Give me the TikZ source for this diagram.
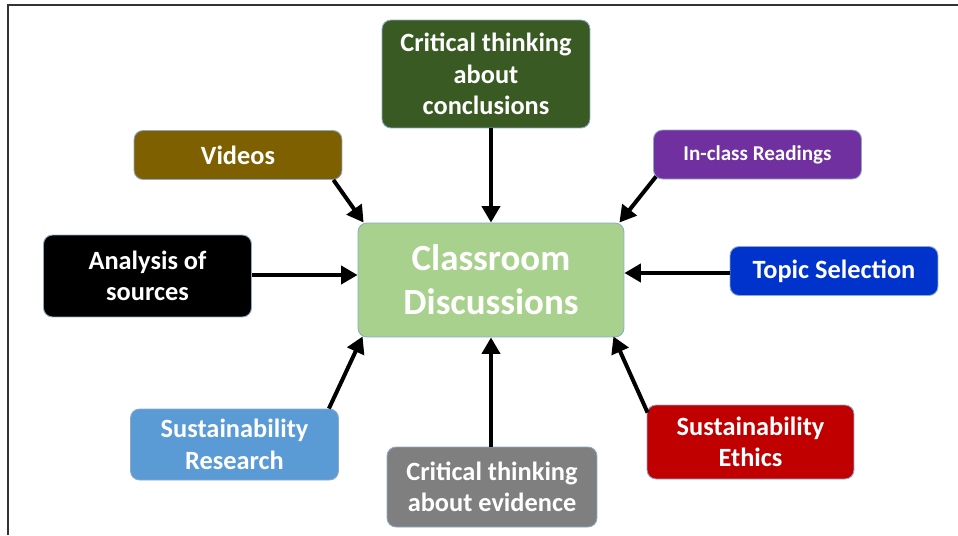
\documentclass[tikz,border=0pt]{standalone}
\usepackage{fontspec}
\setmainfont{Carlito}
\usetikzlibrary{calc}
\usetikzlibrary{arrows.meta}
\definecolor{conclgreen}{HTML}{3A5A24}
\definecolor{videobrown}{HTML}{7F6000}
\definecolor{readpurple}{HTML}{7030A0}
\definecolor{discgreen}{HTML}{A9D18E}
\definecolor{topicblue}{HTML}{0033CC}
\definecolor{researchblue}{HTML}{5B9BD5}
\definecolor{evidgray}{HTML}{7F7F7F}
\definecolor{ethicsred}{HTML}{C00000}
\definecolor{boxedge}{HTML}{8EA9C8}
\definecolor{framegray}{HTML}{333333}
\tikzset{
  topicbox/.style={draw=boxedge, line width=0.5pt, rounded corners=0.18cm,
    minimum width=4.16cm, minimum height=0.98cm, inner sep=0pt, align=center,
    text=white, font=\bfseries\fontsize{15}{18}\selectfont},
  feed/.style={black, line width=0.08cm, -{Triangle[length=0.33cm,width=0.36cm]}}
}

\begin{document}
\begin{tikzpicture}[x=0.02cm,y=-0.02cm]

\useasboundingbox (0,0) rectangle (958,535);
\draw[framegray,line width=0.03cm] (8,535)--(8,5)--(958,5);

\node[topicbox, fill=discgreen, minimum width=5.32cm, minimum height=2.28cm,
  font=\bfseries\fontsize{21}{25}\selectfont] (cd) at (491,280) {Classroom\\Discussions};

\node[topicbox, fill=conclgreen, minimum height=2.16cm] (concl) at (486,74) {Critical thinking\\about\\conclusions};
\node[topicbox, fill=videobrown] (vid) at (238,155) {Videos};
\node[topicbox, fill=readpurple, font=\bfseries\fontsize{12}{15}\selectfont] (read) at (757.5,154.5) {In-class Readings};
\node[topicbox, fill=black, minimum height=1.64cm] (ana) at (147.5,276) {Analysis of\\sources};
\node[topicbox, fill=topicblue] (topic) at (834,271) {Topic Selection};
\node[topicbox, fill=researchblue, minimum height=1.42cm] (res) at (234.5,444.5) {Sustainability\\Research};
\node[topicbox, fill=evidgray, minimum width=4.2cm, minimum height=1.6cm] (evi) at (492,487) {Critical thinking\\about evidence};
\node[topicbox, fill=ethicsred, minimum width=4.14cm, minimum height=1.48cm] (eth) at (750.5,442) {Sustainability\\Ethics};

\draw[feed] ($(vid.south east)+(-9,0)$)--($(cd.north west)+(6,0)$);
\draw[feed] (cd.north |- concl.south)--(cd.north);
\draw[feed] ($(read.south west)+(3,-3)$)--($(cd.north east)+(-5,0)$);
\draw[feed] ($(ana.east)+(0,-1)$)--($(ana.east -| cd.west)+(0,-1)$);
\draw[feed] ($(topic.west)+(0,2)$)--($(topic.west -| cd.east)+(0,2)$);
\draw[feed] ($(res.north east)+(-10,0)$)--($(cd.south west)+(5,-1)$);
\draw[feed] (cd.south |- evi.north)--(cd.south);
\draw[feed] ($(eth.north west)+(1,8)$)--($(cd.south east)+(-11,-1)$);

\end{tikzpicture}
\end{document}
